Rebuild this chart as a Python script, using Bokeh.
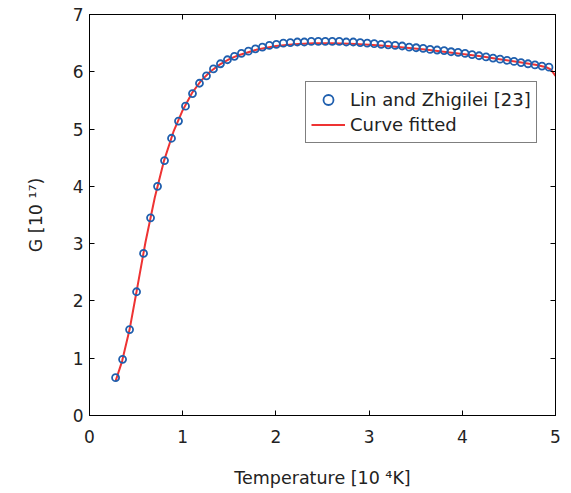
from bokeh.plotting import figure
from bokeh.models import Range1d, FixedTicker, LinearAxis, Legend, LegendItem, ColumnDataSource
from bokeh.embed import file_html
from bokeh.resources import INLINE

# Data: Lin and Zhigilei [23] (T in 10^4 K, G in 10^17)
temp_data = [0.28, 0.355, 0.43, 0.505, 0.58, 0.655, 0.73, 0.805, 0.88, 0.955,
             1.03, 1.105, 1.18, 1.255, 1.33, 1.405, 1.48, 1.555, 1.63, 1.705,
             1.78, 1.855, 1.93, 2.005, 2.08, 2.155, 2.23, 2.305, 2.38, 2.455,
             2.53, 2.605, 2.68, 2.755, 2.83, 2.905, 2.98, 3.055, 3.13, 3.205,
             3.28, 3.355, 3.43, 3.505, 3.58, 3.655, 3.73, 3.805, 3.88, 3.955,
             4.03, 4.105, 4.18, 4.255, 4.33, 4.405, 4.48, 4.555, 4.63, 4.705,
             4.78, 4.855, 4.93]
g_data = [0.66, 0.98, 1.50, 2.16, 2.83, 3.45, 4.00, 4.45, 4.84, 5.14,
          5.40, 5.62, 5.80, 5.93, 6.05, 6.14, 6.21, 6.27, 6.32, 6.36,
          6.40, 6.43, 6.46, 6.48, 6.50, 6.51, 6.52, 6.52, 6.53, 6.53,
          6.53, 6.53, 6.53, 6.52, 6.52, 6.51, 6.50, 6.49, 6.48, 6.47,
          6.46, 6.45, 6.43, 6.42, 6.41, 6.39, 6.38, 6.37, 6.35, 6.34,
          6.32, 6.30, 6.28, 6.26, 6.24, 6.22, 6.20, 6.18, 6.16, 6.14,
          6.12, 6.10, 6.08]

# Fitted curve
temp_fit = [0.28, 0.35, 0.43, 0.5, 0.6, 0.7, 0.8, 0.9, 1.0, 1.1, 1.2, 1.3,
            1.4, 1.5, 1.6, 1.8, 2.0, 2.2, 2.4, 2.6, 2.8, 3.0, 3.2, 3.4, 3.6,
            3.8, 4.0, 4.2, 4.4, 4.6, 4.8, 4.9, 4.95, 5.0]
g_fit = [0.60, 0.95, 1.50, 2.12, 3.02, 3.80, 4.45, 4.95, 5.33, 5.63, 5.85, 6.01,
         6.13, 6.22, 6.29, 6.39, 6.45, 6.48, 6.50, 6.50, 6.49, 6.47, 6.45, 6.42, 6.39,
         6.35, 6.31, 6.27, 6.22, 6.17, 6.12, 6.08, 6.04, 5.93]

x_ticks = [0, 1, 2, 3, 4, 5]
y_ticks = [0, 1, 2, 3, 4, 5, 6, 7]

FONT = "DejaVu Sans"

p = figure(width=563, height=490, output_backend="svg", toolbar_location=None,
           x_range=Range1d(0, 5), y_range=Range1d(0, 7),
           min_border_left=89, min_border_right=8, min_border_top=14, min_border_bottom=74,
           x_axis_label="Temperature [10 \u2074K]", y_axis_label="G [10 \u00b9\u2077)")
p.outline_line_color = "black"
p.outline_line_width = 1
p.xgrid.visible = False
p.ygrid.visible = False
p.background_fill_color = "white"
p.border_fill_color = "white"

for ax in (p.xaxis[0], p.yaxis[0]):
    ax.major_tick_in = 5
    ax.major_tick_out = 0
    ax.minor_tick_line_color = None
    ax.axis_line_color = "black"
    ax.major_tick_line_color = "black"
    ax.major_label_text_font = FONT
    ax.major_label_text_font_size = "17px"
    ax.major_label_text_color = "#222222"
    ax.axis_label_text_font = FONT
    ax.axis_label_text_font_size = "17.5px"
    ax.axis_label_text_font_style = "normal"
    ax.axis_label_text_color = "#222222"

p.xaxis[0].ticker = FixedTicker(ticks=x_ticks)
p.yaxis[0].ticker = FixedTicker(ticks=y_ticks)
p.xaxis[0].major_label_standoff = 14
p.yaxis[0].major_label_standoff = 6
p.xaxis[0].axis_label_standoff = 22
p.yaxis[0].axis_label_standoff = 24

# mirrored ticks (box on), no labels
right_ax = LinearAxis(ticker=FixedTicker(ticks=y_ticks), major_tick_in=5, major_tick_out=0,
                      minor_tick_line_color=None, major_label_standoff=0,
                      major_label_overrides={t: "" for t in y_ticks})
top_ax = LinearAxis(ticker=FixedTicker(ticks=x_ticks), major_tick_in=5, major_tick_out=0,
                    minor_tick_line_color=None, major_label_standoff=0,
                    major_label_overrides={t: "" for t in x_ticks})
p.add_layout(right_ax, "right")
p.add_layout(top_ax, "above")

src_data = ColumnDataSource(dict(t=temp_data, g=g_data))
src_fit = ColumnDataSource(dict(t=temp_fit, g=g_fit))

r_fit = p.line("t", "g", source=src_fit, line_color="#ee3333", line_width=2)
r_pts = p.scatter("t", "g", source=src_data, marker="circle", size=7,
                  line_color="#1f5fae", line_width=1.8, fill_color=None)

legend = Legend(items=[LegendItem(label="Lin and Zhigilei [23]", renderers=[r_pts]),
                       LegendItem(label="Curve fitted", renderers=[r_fit])],
                location=(216, 272))
legend.label_text_font = FONT
legend.label_text_font_size = "18px"
legend.label_text_color = "#222222"
legend.border_line_color = "black"
legend.border_line_width = 1
legend.background_fill_alpha = 1
legend.padding = 5
legend.spacing = 0
legend.margin = 0
legend.glyph_width = 34
legend.glyph_height = 25
legend.label_height = 25
legend.label_standoff = 5
p.add_layout(legend, "center")

open("out.html", "w").write(file_html(p, INLINE))
